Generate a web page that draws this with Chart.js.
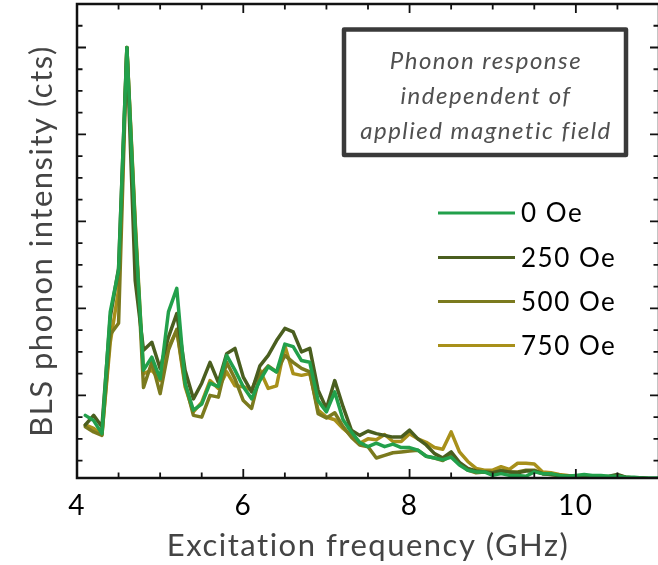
<!DOCTYPE html>
<html>
<head>
<meta charset="utf-8">
<script src="https://cdn.jsdelivr.net/npm/chart.js@4.4.1/dist/chart.umd.min.js"></script>
<style>
  html, body { margin: 0; padding: 0; background: #ffffff; overflow: hidden; }
  #wrap { position: relative; width: 670px; height: 565px; }
</style>
</head>
<body>
<div id="wrap"><canvas id="c" width="670" height="565"></canvas></div>
<script>
// ---- data ----
const frequencies = [
  4.1,4.2,4.3,4.4,4.5,4.6,4.7,4.8,4.9,5.0,
  5.1,5.2,5.3,5.4,5.5,5.6,5.7,5.8,5.9,6.0,
  6.1,6.2,6.3,6.4,6.5,6.6,6.7,6.8,6.9,7.0,
  7.1,7.2,7.3,7.4,7.5,7.6,7.7,7.8,7.9,8.0,
  8.1,8.2,8.3,8.4,8.5,8.6,8.7,8.8,8.9,9.0,
  9.1,9.2,9.3,9.4,9.5,9.6,9.7,9.8,9.9,10.0,
  10.1,10.2,10.3,10.4,10.5,10.6,10.7,10.8,10.9,11.0
];
const seriesLabels = ["0 Oe", "250 Oe", "500 Oe", "750 Oe"];
const field0 = [
  77,71,56,196,244,500,290,129,144,119,
  196,223,114,83,90,114,110,146,129,110,
  96,117,133,127,159,156,140,138,94,81,
  104,72,58,46,41,45,41,44,40,40,
  37,30,28,26,29,20,14,12,12,8,
  10,8,8,7,12,10,10,8,7,8,
  9,8,8,7,7,6,6,5,5,5
];
const field250 = [
  66,77,64,190,246,500,232,152,161,131,
  167,194,129,96,114,138,115,148,154,121,
  104,134,146,163,177,173,150,154,106,85,
  117,87,60,54,59,56,54,52,52,60,
  50,43,33,28,35,23,16,13,12,11,
  13,12,11,13,13,10,9,8,7,7,
  6,6,6,7,9,6,5,5,4,4
];
const field500 = [
  64,58,54,170,183,500,296,109,138,102,
  152,176,114,77,75,100,98,138,119,94,
  85,123,134,127,146,138,131,127,79,74,
  80,64,52,43,41,28,31,34,35,36,
  37,30,28,25,31,22,14,11,12,11,
  14,12,12,14,14,10,9,8,7,7,
  6,6,5,6,8,6,5,5,4,4
];
const field750 = [
  66,62,55,161,221,500,300,125,129,117,
  155,175,110,81,92,117,108,127,111,110,
  106,129,108,111,157,125,123,125,83,75,
  72,62,54,45,50,49,55,47,47,56,
  50,46,40,38,58,35,24,16,14,14,
  18,15,22,22,21,12,11,9,8,6,
  6,5,5,5,6,5,5,4,4,4
];
const xTickLabels = ["4", "6", "8", "10"];
const xTickValues = [4, 6, 8, 10];
const xMinorStep = 0.5;
const yMinorStep = 25;
const yMajorStep = 100;
const annotationLines = ["Phonon response", "independent of", "applied magnetic field"];

// ---- styling ----
const colors = ["#22a04b", "#4a5e1f", "#7b7a1e", "#a8901a"];
const allSeries = [field0, field250, field500, field750];
const FONT = "Lato, 'Open Sans', sans-serif";

const datasets = allSeries.map((vals, i) => ({
  label: seriesLabels[i],
  data: frequencies.map((f, k) => ({ x: f, y: vals[k] })),
  borderColor: colors[i],
  backgroundColor: colors[i],
  borderWidth: 3.5,
  borderJoinStyle: 'round',
  borderCapStyle: 'round',
  pointRadius: 0,
  tension: 0,
  fill: false
}));

const spacingPlugin = {
  id: 'spacing',
  beforeDraw(chart) { chart.ctx.letterSpacing = "1.5px"; }
};

const decorPlugin = {
  id: 'decor',
  afterDatasetsDraw(chart) {
    const ctx = chart.ctx;
    const a = chart.chartArea;
    const xs = chart.scales.x, ys = chart.scales.y;
    ctx.save();
    // frame
    ctx.strokeStyle = "#111";
    ctx.lineWidth = 2.5;
    ctx.strokeRect(a.left, a.top, a.right - a.left, a.bottom - a.top);
    // x ticks (inward, bottom and top)
    ctx.lineWidth = 1.8;
    for (let v = xs.min; v <= xs.max + 1e-9; v += xMinorStep) {
      const px = xs.getPixelForValue(v);
      const major = Math.abs(v / 2 - Math.round(v / 2)) < 1e-6;
      const len = major ? 9 : 5.5;
      ctx.beginPath();
      ctx.moveTo(px, a.bottom); ctx.lineTo(px, a.bottom - len);
      ctx.moveTo(px, a.top); ctx.lineTo(px, a.top + len);
      ctx.stroke();
    }
    // y ticks (inward, left and right)
    for (let v = yMinorStep; v <= ys.max; v += yMinorStep) {
      const py = ys.getPixelForValue(v);
      const major = v % yMajorStep === 0;
      const len = major ? 9 : 5.5;
      ctx.beginPath();
      ctx.moveTo(a.left, py); ctx.lineTo(a.left + len, py);
      ctx.moveTo(a.right, py); ctx.lineTo(a.right - len, py);
      ctx.stroke();
    }
    // annotation box
    ctx.strokeStyle = "#3a3a3a";
    ctx.lineWidth = 4.5;
    ctx.lineJoin = "round";
    ctx.strokeRect(344, 29.5, 282, 125.5);
    ctx.fillStyle = "#505050";
    ctx.letterSpacing = "1.5px";
    ctx.font = "italic 24px " + FONT;
    ctx.textAlign = "center";
    ctx.textBaseline = "middle";
    const lineYs = [61, 96, 131];
    annotationLines.forEach((t, i) => ctx.fillText(t, 486, lineYs[i]));
    // legend
    const legYs = [213, 257.5, 301.5, 345.5];
    ctx.textAlign = "left";
    ctx.font = "26px " + FONT;
    chart.data.datasets.forEach((ds, i) => {
      ctx.strokeStyle = ds.borderColor;
      ctx.lineWidth = 3;
      ctx.lineCap = "butt";
      ctx.beginPath();
      ctx.moveTo(438, legYs[i]); ctx.lineTo(515, legYs[i]);
      ctx.stroke();
      ctx.fillStyle = "#000";
      ctx.fillText(ds.label, 521, legYs[i] + 1);
    });
    ctx.restore();
  }
};

new Chart(document.getElementById('c'), {
  type: 'line',
  data: { datasets },
  options: {
    responsive: false,
    animation: false,
    layout: { padding: { top: 4, right: 6, left: 0, bottom: 0 } },
    plugins: { legend: { display: false }, tooltip: { enabled: false } },
    scales: {
      x: {
        type: 'linear',
        min: 4, max: 11,
        afterFit(scale) { scale.height = 87; },
        grid: { display: false, drawTicks: false },
        border: { display: false },
        ticks: {
          stepSize: 2,
          autoSkip: false,
          maxRotation: 0,
          padding: 11,
          color: "#000",
          font: { family: FONT, size: 28 },
          callback(v) {
            const idx = xTickValues.indexOf(v);
            return idx >= 0 ? xTickLabels[idx] : "";
          }
        },
        title: {
          display: true,
          text: "Excitation frequency (GHz)",
          color: "#444",
          font: { family: FONT, size: 31, lineHeight: 0.8 },
          padding: { top: 0, bottom: 7 }
        }
      },
      y: {
        type: 'linear',
        min: 5, max: 550,
        afterFit(scale) { scale.width = 77; },
        grid: { display: false, drawTicks: false },
        border: { display: false },
        ticks: { display: false },
        title: {
          display: true,
          text: "BLS phonon intensity (cts)",
          color: "#444",
          font: { family: FONT, size: 31, lineHeight: 1.2 },
          padding: { top: 23, bottom: 0 }
        }
      }
    }
  },
  plugins: [spacingPlugin, decorPlugin]
});
</script>
</body>
</html>
